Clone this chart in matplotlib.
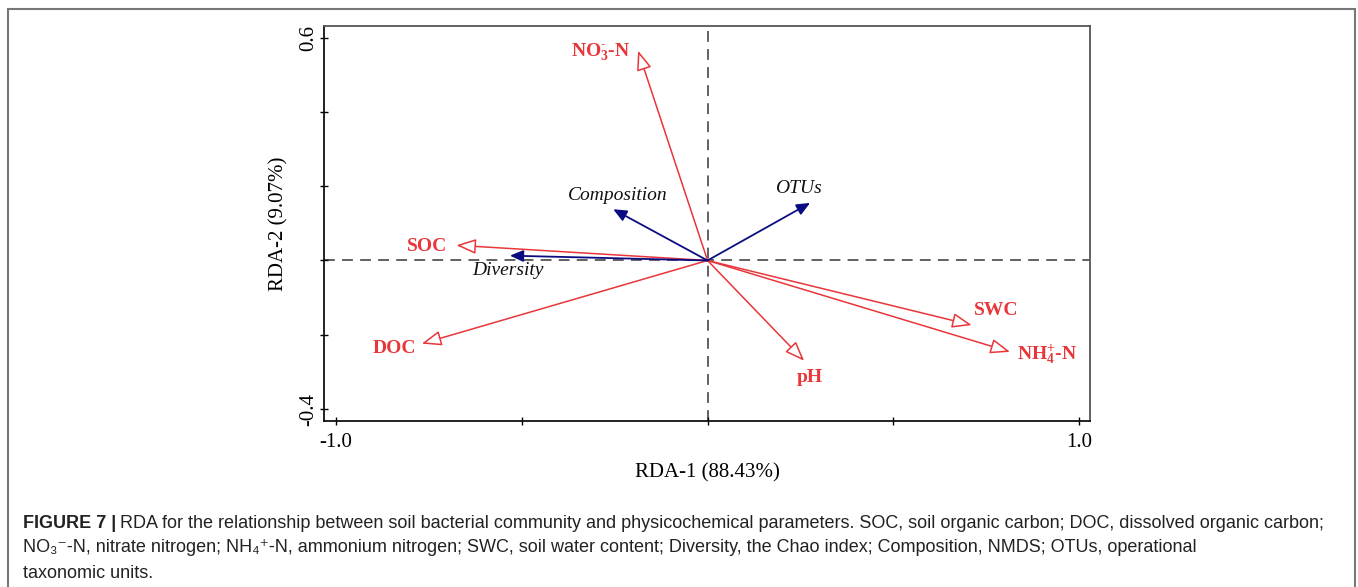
import matplotlib
matplotlib.use('Agg')
import matplotlib.pyplot as plt
from matplotlib.patches import FancyArrowPatch, ArrowStyle, Rectangle

# variables environnementales (fleches rouges)
env_names = [r'NO$_3^{\text{-}}$-N', 'SOC', 'DOC', 'SWC', r'NH$_4^{\text{+}}$-N', 'pH']
env_x = [-0.187, -0.676, -0.769, 0.711, 0.814, 0.26]
env_y = [0.565, 0.041, -0.224, -0.174, -0.246, -0.27]
env_lab_x = [-0.289, -0.756, -0.844, 0.778, 0.914, 0.275]
env_lab_y = [0.562, 0.039, -0.238, -0.135, -0.252, -0.314]

# variables bacteriennes (fleches bleues)
bac_names = ['Composition', 'Diversity', 'OTUs']
bac_x = [-0.254, -0.532, 0.276]
bac_y = [0.138, 0.013, 0.155]
bac_lab_x = [-0.241, -0.537, 0.244]
bac_lab_y = [0.175, -0.026, 0.195]

x_ticks = [-1.0, -0.5, 0.0, 0.5, 1.0]
x_ticklabels = ['-1.0', '', '', '', '1.0']
y_ticks = [-0.4, -0.2, 0.0, 0.2, 0.4, 0.6]
y_ticklabels = ['-0.4', '', '', '', '', '0.6']

RED = '#e8363a'
BLUE = '#0c0c82'
GREY = '#555555'

plt.rcParams['mathtext.fontset'] = 'custom'
plt.rcParams['mathtext.rm'] = 'Liberation Serif:bold'
plt.rcParams['mathtext.bf'] = 'Liberation Serif:bold'
plt.rcParams['mathtext.it'] = 'Liberation Serif:italic:bold'

fig = plt.figure(figsize=(13.58, 5.87), dpi=100)
ax = fig.add_axes([0.2386, 0.2828, 0.5641, 0.6729])
ax.set_xlim(-1.0323, 1.0296)
ax.set_ylim(-0.4323, 0.6315)

# lignes pointillees des axes
ax.axhline(0, color=GREY, lw=1.3, ls=(0, (6, 4)), zorder=1)
ax.axvline(0, color=GREY, lw=1.3, ls=(0, (6, 4)), zorder=1)

# fleches rouges a tete ouverte
red_style = ArrowStyle('-|>', head_length=12, head_width=4.6)
for x, y in zip(env_x, env_y):
    ax.add_patch(FancyArrowPatch((0, 0), (x, y), arrowstyle=red_style, mutation_scale=1,
                                 edgecolor=RED, facecolor='white', lw=1.1,
                                 shrinkA=0, shrinkB=0, zorder=3))
for name, x, y in zip(env_names, env_lab_x, env_lab_y):
    ax.text(x, y, name, color=RED, fontsize=14, fontweight='bold',
            family='Liberation Serif', ha='center', va='center')

# fleches bleues pleines
blue_style = ArrowStyle('-|>', head_length=8, head_width=3.5)
for x, y in zip(bac_x, bac_y):
    ax.add_patch(FancyArrowPatch((0, 0), (x, y), arrowstyle=blue_style, mutation_scale=1,
                                 edgecolor=BLUE, facecolor=BLUE, lw=1.3,
                                 shrinkA=0, shrinkB=0, zorder=4))
for name, x, y in zip(bac_names, bac_lab_x, bac_lab_y):
    ax.text(x, y, name, color='#111111', fontsize=14, style='italic',
            family='Liberation Serif', ha='center', va='center')

ax.set_xticks(x_ticks)
ax.set_xticklabels(x_ticklabels)
ax.set_yticks(y_ticks)
ax.set_yticklabels(y_ticklabels, rotation=90, va='center')
ax.tick_params(direction='inout', length=6, width=1, labelsize=15)
ax.tick_params(axis='x', pad=6)
ax.tick_params(axis='y', pad=1)
for lab in ax.get_xticklabels() + ax.get_yticklabels():
    lab.set_family('Liberation Serif')

for side in ['left', 'bottom']:
    ax.spines[side].set_color('#111111')
    ax.spines[side].set_linewidth(1.3)
for side in ['top', 'right']:
    ax.spines[side].set_color(GREY)
    ax.spines[side].set_linewidth(1.3)

ax.set_xlabel('RDA-1 (88.43%)', family='Liberation Serif', fontsize=15, labelpad=8)
ax.set_ylabel('RDA-2 (9.07%)', family='Liberation Serif', fontsize=15, labelpad=8)

# cadre exterieur
fig.patches.append(Rectangle((7.5 / 1358, -0.05), 1347.5 / 1358, 1 - 8.5 / 587 + 0.05,
                             transform=fig.transFigure, fill=False,
                             edgecolor='#777777', lw=1.5))

# legende de la figure
cap_font = ['Liberation Sans', 'DejaVu Sans']
cap_size = 13
line1 = ('RDA for the relationship between soil bacterial community and physicochemical '
         'parameters. SOC, soil organic carbon; DOC, dissolved organic carbon;')
line2 = ('NO\u2083\u207b-N, nitrate nitrogen; NH\u2084\u207a-N, ammonium nitrogen; SWC, soil '
         'water content; Diversity, the Chao index; Composition, NMDS; OTUs, operational')
line3 = 'taxonomic units.'
t1 = fig.text(23 / 1358, 1 - 523 / 587, 'FIGURE 7 |', family=cap_font, fontsize=cap_size,
              fontweight='bold', va='center', color='#222222')
fig.canvas.draw()
bb = t1.get_window_extent()
fig.text((bb.x1 + 4) / 1358, 1 - 523 / 587, line1, family=cap_font, fontsize=cap_size,
         va='center', color='#222222')
fig.text(23 / 1358, 1 - 548 / 587, line2, family=cap_font, fontsize=cap_size,
         va='center', color='#222222')
fig.text(23 / 1358, 1 - 573 / 587, line3, family=cap_font, fontsize=cap_size,
         va='center', color='#222222')

fig.savefig('out.png', dpi=100)
